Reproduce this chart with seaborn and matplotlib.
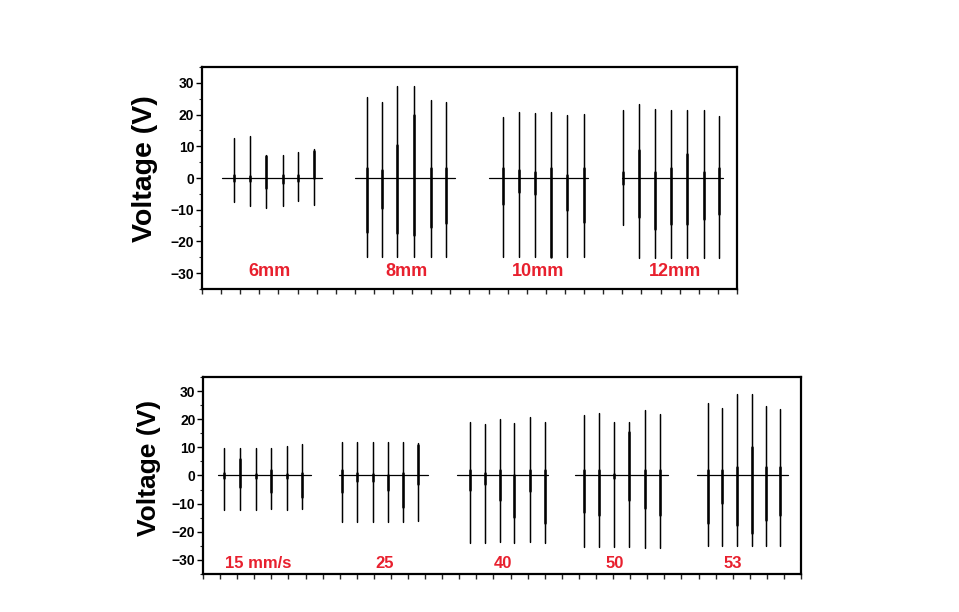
import numpy as np
import pandas as pd
import matplotlib
matplotlib.use("Agg")
import matplotlib.pyplot as plt
from matplotlib.ticker import MultipleLocator, NullFormatter
import seaborn as sns

# ---------------- data: top panel (electrode gap) ----------------
top_labels = ["6mm", "8mm", "10mm", "12mm"]
top_label_x = [3.56, 10.73, 17.59, 24.76]
top_base_start = [1.03, 8.01, 15.04, 22.0]
top_base_end = [6.26, 13.24, 20.22, 27.25]
top_spike_x = [
    [1.69, 2.51, 3.33, 4.22, 5.04, 5.88],
    [8.62, 9.42, 10.22, 11.11, 11.97, 12.77],
    [15.77, 16.61, 17.43, 18.27, 19.12, 20.0],
    [22.05, 22.87, 23.72, 24.56, 25.40, 26.26, 27.07],
]
top_spike_hi = [
    [12.7, 13.1, 7.2, 7.1, 8.2, 9.0],
    [25.7, 23.9, 28.9, 28.9, 24.7, 23.9],
    [19.2, 20.8, 20.5, 20.8, 20.0, 20.3],
    [21.5, 23.4, 21.8, 21.3, 21.3, 21.3, 19.7],
]
top_spike_lo = [
    [-7.5, -8.9, -9.6, -8.8, -7.2, -8.6],
    [-24.8, -24.8, -24.8, -24.8, -24.8, -24.8],
    [-25.0, -25.0, -25.0, -25.0, -25.0, -25.0],
    [-14.8, -25.3, -25.3, -25.3, -25.3, -25.3, -25.3],
]
top_core_hi = [
    [0.8, 0.5, 7.0, 0.8, 0.8, 8.5],
    [3.0, 2.5, 10.3, 20.0, 3.0, 3.0],
    [3.0, 2.5, 2.0, 3.0, 1.0, 3.0],
    [2.0, 8.7, 2.0, 3.0, 7.7, 2.0, 3.0],
]
top_core_lo = [
    [-1.0, -1.0, -3.0, -1.5, -1.0, 0.0],
    [-17.0, -9.6, -17.5, -18.0, -15.4, -14.1],
    [-8.2, -4.4, -5.0, -25.0, -10.0, -14.0],
    [-2.0, -12.2, -16.0, -14.5, -14.5, -13.0, -11.2],
]

# ---------------- data: bottom panel (speed) ----------------
bot_labels = ["15 mm/s", "25", "40", "50", "53"]
bot_label_x = [3.23, 10.6, 17.56, 24.1, 31.0]
bot_base_start = [0.88, 7.93, 14.89, 21.77, 28.92]
bot_base_end = [6.33, 13.19, 20.21, 27.23, 34.25]
bot_spike_x = [
    [1.20, 2.18, 3.10, 3.99, 4.91, 5.81],
    [8.13, 9.04, 9.92, 10.82, 11.70, 12.61],
    [15.63, 16.51, 17.39, 18.22, 19.13, 20.02],
    [22.30, 23.18, 24.05, 24.95, 25.87, 26.74],
    [29.57, 30.39, 31.26, 32.11, 32.95, 33.77],
]
bot_spike_hi = [
    [9.9, 9.9, 9.9, 9.9, 10.4, 11.1],
    [11.9, 11.9, 11.9, 11.9, 11.9, 11.6],
    [19.0, 18.4, 19.9, 18.7, 20.8, 19.0],
    [21.4, 22.2, 19.0, 19.0, 23.4, 21.7],
    [25.7, 24.0, 28.8, 28.8, 24.6, 23.8],
]
bot_spike_lo = [
    [-12.1, -12.1, -12.1, -12.0, -12.1, -12.0],
    [-16.4, -16.4, -16.4, -16.4, -16.4, -16.0],
    [-24.1, -24.1, -23.5, -24.1, -23.5, -24.1],
    [-25.5, -25.5, -25.5, -25.5, -25.8, -25.8],
    [-25.0, -25.0, -25.0, -25.0, -25.0, -25.0],
]
bot_core_hi = [
    [1.0, 6.0, 0.5, 2.0, 0.5, 1.0],
    [2.0, 1.0, 0.5, 0.0, 1.0, 11.0],
    [2.0, 1.0, 2.0, 0.0, 2.0, 2.0],
    [2.0, 2.0, 0.5, 15.5, 2.0, 2.0],
    [2.0, 2.0, 3.0, 10.2, 3.0, 3.0],
]
bot_core_lo = [
    [-1.0, -4.0, -1.0, -5.8, -1.0, -7.6],
    [-6.0, -2.0, -2.0, -5.0, -11.1, -3.0],
    [-5.2, -3.0, -8.8, -14.7, -5.5, -17.0],
    [-12.9, -14.1, -1.0, -8.8, -11.7, -14.1],
    [-17.0, -9.9, -17.6, -20.6, -15.9, -14.1],
]

y_ticks = [-30, -20, -10, 0, 10, 20, 30]
y_label = "Voltage (V)"


def build_trace(b_start, b_end, sx, hi, lo):
    rows = []
    for g in range(len(sx)):
        rows.append((g, b_start[g], 0.0))
        for x, h, l in zip(sx[g], hi[g], lo[g]):
            rows += [(g, x, 0.0), (g, x, h), (g, x, l), (g, x, 0.0)]
        rows.append((g, b_end[g], 0.0))
    return pd.DataFrame(rows, columns=["grp", "t", "v"])


def build_cores(sx, hi, lo):
    rows = []
    k = 0
    for g in range(len(sx)):
        for x, h, l in zip(sx[g], hi[g], lo[g]):
            rows += [(k, x, h), (k, x, l)]
            k += 1
    return pd.DataFrame(rows, columns=["spk", "t", "v"])


sns.set_theme(style="ticks")
plt.rcParams["font.family"] = ["Liberation Sans", "DejaVu Sans"]
plt.rcParams["text.color"] = "black"
plt.rcParams["axes.labelcolor"] = "black"

fig = plt.figure(figsize=(9.59, 6.12), dpi=100)
ax_top = fig.add_axes([0.2106, 0.5278, 0.5579, 0.3627])
ax_bot = fig.add_axes([0.2117, 0.0621, 0.6236, 0.3219])

red = "#e8202e"

panels = [
    (ax_top, top_base_start, top_base_end, top_spike_x, top_spike_hi, top_spike_lo,
     top_core_hi, top_core_lo, top_labels, top_label_x, -29.6, 28, -0.082, 20.5, 13),
    (ax_bot, bot_base_start, bot_base_end, bot_spike_x, bot_spike_hi, bot_spike_lo,
     bot_core_hi, bot_core_lo, bot_labels, bot_label_x, -31.1, 35, -0.070, 19, 12),
]

for (ax, bs, be, sx, hi, lo, chi, clo, labs, labx, laby, xmax, lblx, lblsize, txtsize) in panels:
    trace = build_trace(bs, be, sx, hi, lo)
    cores = build_cores(sx, chi, clo)
    sns.lineplot(data=trace, x="t", y="v", units="grp", estimator=None, sort=False,
                 color="black", linewidth=0.9, ax=ax, legend=False)
    sns.lineplot(data=cores, x="t", y="v", units="spk", estimator=None, sort=False,
                 color="black", linewidth=1.8, ax=ax, legend=False)
    for lab, lx in zip(labs, labx):
        ax.text(lx, laby, lab, color=red, fontsize=txtsize, fontweight="bold",
                ha="center", va="center")
    ax.set_xlim(0, xmax)
    ax.set_ylim(-35, 35)
    ax.set_yticks(y_ticks)
    ax.yaxis.set_minor_locator(MultipleLocator(5))
    ax.xaxis.set_major_locator(MultipleLocator(1))
    ax.xaxis.set_major_formatter(NullFormatter())
    ax.set_xlabel("")
    ax.set_ylabel(y_label, fontsize=lblsize, fontweight="bold", color="black")
    ax.yaxis.set_label_coords(lblx, 0.54)
    for s in ax.spines.values():
        s.set_visible(True)
        s.set_linewidth(1.6)
        s.set_color("black")
    ax.tick_params(axis="y", which="major", direction="out", length=4, width=1.0,
                   labelsize=10, pad=1.5, colors="black")
    ax.tick_params(axis="y", which="minor", direction="out", length=2, width=0.8)
    ax.tick_params(axis="x", which="major", direction="out", length=3.5, width=1.0)
    for t in ax.get_yticklabels():
        t.set_fontweight("bold")
    ax.set_facecolor("white")

fig.savefig("out.png", dpi=100, facecolor="white")
